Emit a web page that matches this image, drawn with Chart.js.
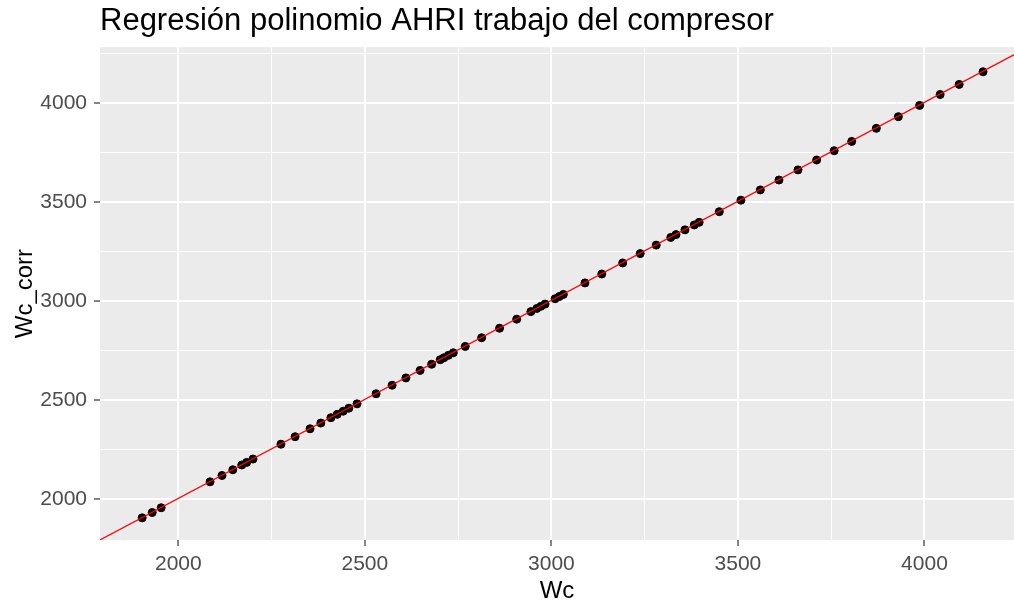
<!DOCTYPE html>
<html>
<head>
<meta charset="utf-8">
<script src="https://cdn.jsdelivr.net/npm/chart.js@4.4.1/dist/chart.umd.min.js"></script>
<style>
  html, body { margin: 0; padding: 0; background: #fff; overflow: hidden; }
  canvas { display: block; }
</style>
</head>
<body>
<canvas id="myChart" width="1014" height="608"></canvas>
<script>
// valores (Wc vs Wc_corr)
const wc = [1903, 1930, 1954, 2085, 2117, 2146, 2170, 2183, 2200, 2275,
    2313, 2353, 2382, 2409, 2426, 2442, 2457, 2479, 2530, 2573,
    2610, 2648, 2679, 2702, 2712, 2724, 2737, 2769, 2813, 2861,
    2907, 2945, 2961, 2972, 2983, 3010, 3021, 3032, 3090, 3135,
    3191, 3238, 3281, 3320, 3334, 3358, 3383, 3396, 3450, 3508,
    3560, 3610, 3661, 3711, 3758, 3805, 3871, 3930, 3987, 4042,
    4093, 4157];
const wcCorr = [1906, 1933, 1957, 2088, 2120, 2149, 2173, 2186, 2203, 2278,
    2316, 2356, 2385, 2412, 2429, 2445, 2460, 2482, 2533, 2576,
    2613, 2651, 2682, 2705, 2715, 2727, 2740, 2772, 2816, 2864,
    2910, 2948, 2964, 2975, 2986, 3013, 3024, 3035, 3093, 3138,
    3194, 3241, 3284, 3323, 3337, 3361, 3386, 3399, 3453, 3511,
    3563, 3613, 3664, 3714, 3761, 3808, 3874, 3933, 3990, 4045,
    4096, 4160];
// recta de regresion
const lineaX = [1700, 4350];
const lineaY = [1704, 4356];
// marcas de los ejes (las de 250 son lineas menores sin etiqueta)
const ticksX = [2000, 2250, 2500, 2750, 3000, 3250, 3500, 3750, 4000];
const ticksY = [2000, 2250, 2500, 2750, 3000, 3250, 3500, 3750, 4000, 4250];

const puntos = wc.map((v, i) => ({ x: v, y: wcCorr[i] }));
const recta = lineaX.map((v, i) => ({ x: v, y: lineaY[i] }));

const fondoPanel = {
    id: 'fondoPanel',
    // el panel llega hasta el borde derecho, como en ggplot recortado
    afterLayout(chart) {
        const a = chart.chartArea;
        const xs = chart.scales.x;
        a.right = chart.width;
        a.width = a.right - a.left;
        xs.right = chart.width;
        xs.width = xs.right - xs.left;
        xs.configure();
    },
    beforeDraw(chart) {
        const a = chart.chartArea;
        const c = chart.ctx;
        c.save();
        c.fillStyle = '#EBEBEB';
        c.fillRect(a.left, a.top, a.right - a.left, a.bottom - a.top);
        c.restore();
    }
};

const esMayor = (v) => Math.round(v) % 500 === 0;

const gridOpts = {
    color: '#FFFFFF',
    lineWidth: (ctx) => (ctx.tick && esMayor(ctx.tick.value)) ? 2 : 1,
    tickColor: (ctx) => (ctx.tick && esMayor(ctx.tick.value)) ? '#333333' : 'rgba(0,0,0,0)',
    tickWidth: 1.2,
    tickLength: 6,
    drawTicks: true
};

const fuente = 'Liberation Sans, Arial, sans-serif';

var ctx = document.getElementById('myChart').getContext('2d');
var myChart = new Chart(ctx, {
    type: 'scatter',
    data: {
        datasets: [{
            label: 'Wc_corr',
            data: puntos,
            backgroundColor: '#000000',
            borderColor: '#000000',
            pointRadius: 4,
            pointHoverRadius: 4,
            order: 2
        }, {
            type: 'line',
            label: 'ajuste',
            data: recta,
            borderColor: '#FF0000',
            borderWidth: 1.2,
            pointRadius: 0,
            fill: false,
            order: 1
        }]
    },
    plugins: [fondoPanel],
    options: {
        responsive: false,
        animation: false,
        devicePixelRatio: 1,
        layout: { padding: 0 },
        plugins: {
            legend: { display: false },
            tooltip: { enabled: false },
            title: {
                display: true,
                text: 'Regresión polinomio AHRI trabajo del compresor',
                align: 'start',
                fullSize: false,
                color: '#000000',
                font: { family: fuente, size: 31, weight: 'normal' },
                padding: { top: 3, bottom: 7 }
            }
        },
        scales: {
            x: {
                type: 'linear',
                min: 1790,
                max: 4240,
                border: { display: false },
                grid: gridOpts,
                afterBuildTicks: (scale) => {
                    scale.ticks = ticksX.map(v => ({ value: v }));
                },
                ticks: {
                    autoSkip: false,
                    maxRotation: 0,
                    color: '#4D4D4D',
                    padding: 6,
                    font: { family: fuente, size: 21 },
                    callback: (v) => esMayor(v) ? String(v) : ''
                },
                title: {
                    display: true,
                    text: 'Wc',
                    color: '#000000',
                    font: { family: fuente, size: 24 },
                    padding: { top: 0, bottom: 2 }
                },
                afterFit: (scale) => {
                    scale.height = 68;
                }
            },
            y: {
                type: 'linear',
                min: 1794,
                max: 4284,
                border: { display: false },
                grid: gridOpts,
                afterBuildTicks: (scale) => {
                    scale.ticks = ticksY.map(v => ({ value: v }));
                },
                ticks: {
                    autoSkip: false,
                    color: '#4D4D4D',
                    padding: 7,
                    font: { family: fuente, size: 21 },
                    callback: (v) => esMayor(v) ? String(v) : ''
                },
                title: {
                    display: true,
                    text: 'Wc_corr',
                    color: '#000000',
                    font: { family: fuente, size: 24 },
                    padding: { top: 11, bottom: 0 }
                },
                afterFit: (scale) => {
                    scale.width = 100;
                }
            }
        }
    }
});
</script>
</body>
</html>
